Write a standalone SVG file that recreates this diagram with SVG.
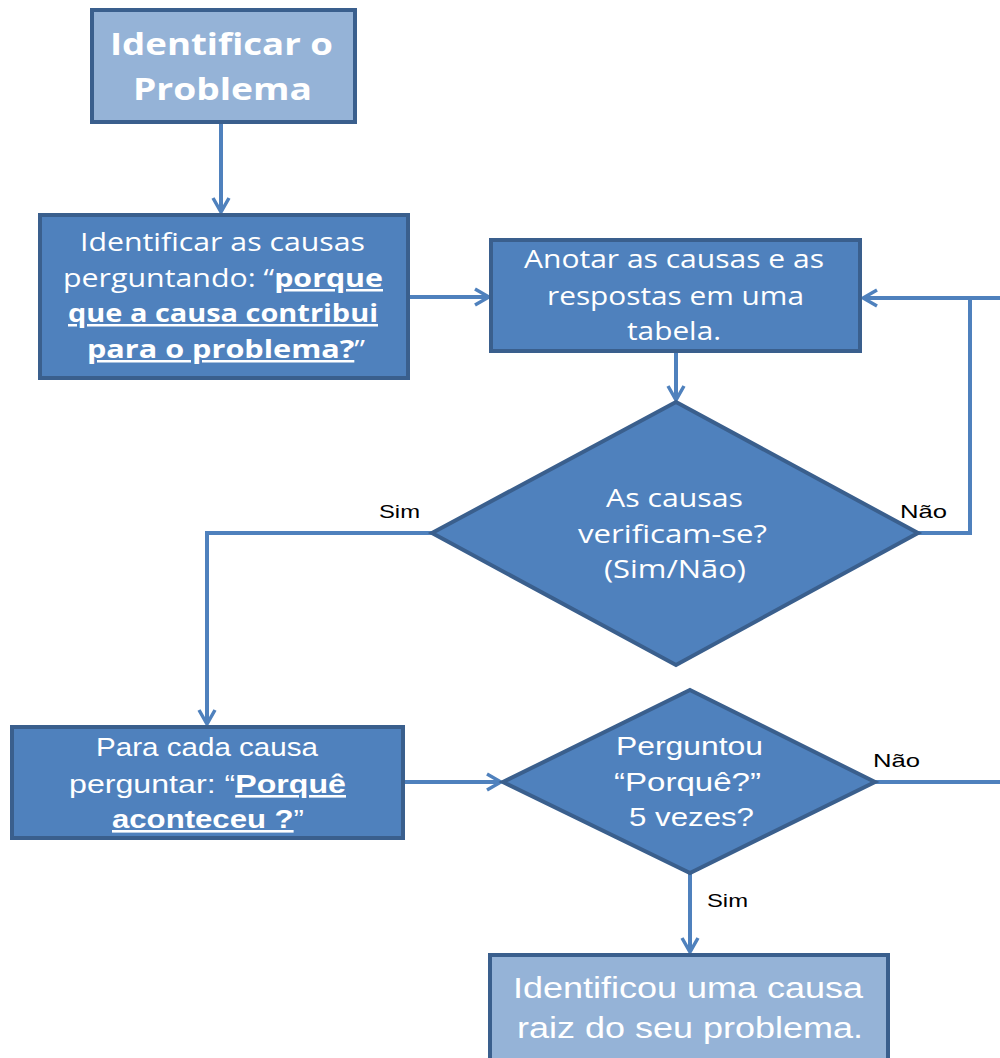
<svg xmlns="http://www.w3.org/2000/svg" width="1000" height="1058" viewBox="0 0 1000 1058">
<defs>
<style>
.box{fill:#4f81bd;stroke:#3a5f8d;stroke-width:4}
.light{fill:#95b3d7;stroke:#3a5f8d;stroke-width:4}
.t{font-family:"Open Sans","Liberation Sans",sans-serif;fill:#fff;text-anchor:middle;font-size:25px}
.n{font-family:"Liberation Sans",sans-serif;fill:#fff;text-anchor:middle;font-size:26px}
.b{font-weight:bold}
.u{text-decoration:underline}
.lbl{font-family:"Liberation Sans",sans-serif;fill:#000;font-size:19px}
.c{fill:none;stroke:#4f81bd;stroke-width:4}
</style>
<marker id="ah" viewBox="0 0 20 20" refX="18" refY="10" markerWidth="20" markerHeight="20" markerUnits="userSpaceOnUse" orient="auto">
<path d="M4,2 L18,10 L4,18" fill="none" stroke="#4f81bd" stroke-width="3.5"/>
</marker>
</defs>
<g id="connectors">
<path class="c" d="M221,122 V212" marker-end="url(#ah)"/>
<path class="c" d="M408,297 H489" marker-end="url(#ah)"/>
<path class="c" d="M676,351 V400" marker-end="url(#ah)"/>
<path class="c" d="M918,533 H970 V298"/>
<path class="c" d="M1000,298 H863" marker-end="url(#ah)"/>
<path class="c" d="M432,533 H207 V724" marker-end="url(#ah)"/>
<path class="c" d="M403,782 H501" marker-end="url(#ah)"/>
<path class="c" d="M875,782 H1000"/>
<path class="c" d="M690,873 V952" marker-end="url(#ah)"/>
<text class="lbl" x="379" y="518" textLength="41" lengthAdjust="spacingAndGlyphs">Sim</text>
<text class="lbl" x="900" y="518" textLength="47" lengthAdjust="spacingAndGlyphs">Não</text>
<text class="lbl" x="873" y="767" textLength="47" lengthAdjust="spacingAndGlyphs">Não</text>
<text class="lbl" x="707" y="907" textLength="41" lengthAdjust="spacingAndGlyphs">Sim</text>
</g>
<g id="n1">
<rect class="light" x="92" y="10" width="263" height="112"/>
<text class="t b" style="font-size:31px" x="221.5" y="55" textLength="223" lengthAdjust="spacingAndGlyphs">Identificar o</text>
<text class="t b" style="font-size:31px" x="222.5" y="100" textLength="179" lengthAdjust="spacingAndGlyphs">Problema</text>
</g>
<g id="n2">
<rect class="box" x="40" y="215" width="368" height="163"/>
<text class="t" x="222.5" y="251" textLength="285" lengthAdjust="spacingAndGlyphs">Identificar as causas</text>
<text class="t" x="223" y="287" textLength="320" lengthAdjust="spacingAndGlyphs">perguntando: “<tspan class="b u">porque</tspan></text>
<text class="t b u" x="223" y="322" textLength="310" lengthAdjust="spacingAndGlyphs">que a causa contribui</text>
<text class="t" x="226" y="358" textLength="278" lengthAdjust="spacingAndGlyphs"><tspan class="b u">para o problema?</tspan>”</text>
</g>
<g id="n3">
<rect class="box" x="491" y="240" width="369" height="111"/>
<text class="t" x="674" y="268" textLength="300" lengthAdjust="spacingAndGlyphs">Anotar as causas e as</text>
<text class="t" x="675.5" y="305" textLength="257" lengthAdjust="spacingAndGlyphs">respostas em uma</text>
<text class="t" x="674" y="340" textLength="94" lengthAdjust="spacingAndGlyphs">tabela.</text>
</g>
<g id="n4">
<polygon class="box" points="676,402 918,533 676,665 432,533"/>
<text class="t" x="674.5" y="507" textLength="137" lengthAdjust="spacingAndGlyphs">As causas</text>
<text class="t" x="672.5" y="543" textLength="189" lengthAdjust="spacingAndGlyphs">verificam-se?</text>
<text class="t" x="675" y="578" textLength="142" lengthAdjust="spacingAndGlyphs">(Sim/Não)</text>
</g>
<g id="n5">
<rect class="box" x="12" y="727" width="391" height="111"/>
<text class="n" x="207" y="756" textLength="222" lengthAdjust="spacingAndGlyphs">Para cada causa</text>
<text class="n" x="207.5" y="793" textLength="277" lengthAdjust="spacingAndGlyphs">perguntar: “<tspan class="b u">Porquê</tspan></text>
<text class="n" x="208" y="828" textLength="192" lengthAdjust="spacingAndGlyphs"><tspan class="b u">aconteceu ?</tspan>”</text>
</g>
<g id="n6">
<polygon class="box" points="690,690 875,782 690,873 503,782"/>
<text class="n" x="689.5" y="755" textLength="147" lengthAdjust="spacingAndGlyphs">Perguntou</text>
<text class="n" x="687.5" y="791" textLength="147" lengthAdjust="spacingAndGlyphs">“Porquê?”</text>
<text class="n" x="691.5" y="826" textLength="125" lengthAdjust="spacingAndGlyphs">5 vezes?</text>
</g>
<g id="n7">
<rect class="light" x="490" y="955" width="398" height="110"/>
<text class="n" style="font-size:30px" x="688" y="998" textLength="350" lengthAdjust="spacingAndGlyphs">Identificou  uma causa</text>
<text class="n" style="font-size:30px" x="690" y="1038" textLength="346" lengthAdjust="spacingAndGlyphs">raiz do seu problema.</text>
</g>
</svg>
